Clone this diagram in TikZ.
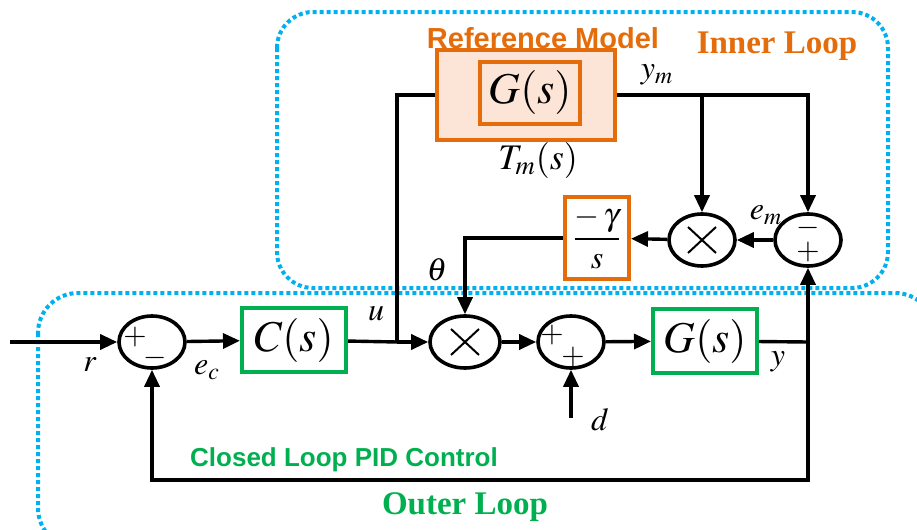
\documentclass[tikz,border=0pt]{standalone}
\usepackage{amsmath}
\usepackage{mathptmx}
\usepackage[no-math]{fontspec}
\setmainfont{Liberation Serif}
\newfontfamily\arialfont{Liberation Sans}
\usepackage{tikz}
\usetikzlibrary{positioning, calc, shapes, arrows.meta}

\definecolor{refOrange}{RGB}{228,108,10}
\definecolor{refPeach}{RGB}{252,228,214}
\definecolor{pidGreen}{RGB}{0,176,80}
\definecolor{loopBlue}{RGB}{0,176,240}

\begin{document}
\begin{tikzpicture}[x=0.5pt, y=-0.5pt, line width=1.7pt,
		>={Triangle[length=8.5pt,width=7.5pt]},
		sumnode/.style={ellipse, draw, line width=1.8pt, minimum width=33pt, minimum height=26pt, inner sep=0pt},
		plantblock/.style={draw=pidGreen, line width=2pt, minimum width=52pt, minimum height=32pt, inner sep=0pt, font=\fontsize{22}{22}\selectfont},
		orangeblock/.style={draw=refOrange, line width=2pt, inner sep=0pt},
		lbl/.style={font=\fontsize{16}{16}\selectfont},
		sign/.style={font=\fontsize{15}{15}\selectfont, inner sep=0pt},
		loopbox/.style={draw=loopBlue, line width=2pt, dash pattern=on 2pt off 1.5pt}]
	\useasboundingbox (0,0) rectangle (917,530);
	\clip (0,0) rectangle (917,530);

	% loops
	\draw[loopbox, rounded corners=18pt] (277,12) rectangle (888,288);
	\draw[loopbox, rounded corners=20pt] (38,293) rectangle (935,548);

	% outer loop blocks
	\node[sumnode] (s1) at (152,342) {};
	\node[plantblock] (ctrl) at (294,340) {$C(s)$};
	\node[sumnode, minimum width=35pt] (m1) at (465,342) {};
	\node[sumnode] (s2) at (571,342) {};
	\node[plantblock] (plant) at (705,341) {$G(s)$};

	\coordinate (in) at (10,342);
	\coordinate (uj) at (397,342);
	\coordinate (yj) at (808,342);
	\coordinate (fb) at (808,480);
	\coordinate (dist) at (571,418);

	\draw[->] (in) -- (s1);
	\draw[->] (s1) -- (ctrl);
	\draw (ctrl) -- (uj);
	\draw[->] (uj) -- (m1);
	\draw[->] (m1) -- (s2);
	\draw[->] (s2) -- (plant);
	\draw (plant) -- (yj);
	\draw[->] (yj) -- (fb) -| (s1.south);
	\draw[->] (dist) -- (s2.south);

	% inner loop blocks
	\node[orangeblock, fill=refPeach, minimum width=89pt, minimum height=45pt] (refm) at (526,95) {};
	\node[orangeblock, fill=refPeach, minimum width=50pt, minimum height=31pt, font=\fontsize{22}{22}\selectfont] (gm) at (530,93) {$G(s)$};
	\node[sumnode] (m2) at (702,240) {};
	\node[sumnode] (s3) at (808,240) {};
	\node[orangeblock, fill=white, minimum width=32pt, minimum height=41pt, font=\fontsize{16}{16}\selectfont] (gain) at (597,238) {$\dfrac{-\,\gamma}{s}$};

	\draw (uj) |- (refm.west);
	\draw[->] (refm.east) -| (s3.north);
	\draw[->] (m2 |- refm.east) -- (m2.north);
	\draw[->] (s3) -- (m2);
	\draw[->] (m2) -- (gain);
	\draw[->] (gain.west) -| (m1.north);
	\draw[->] (yj) -- (s3.south);

	% crosses
	\draw[line width=1pt, shift={(m1)}] (-14,-13) -- (14,13) (-14,13) -- (14,-13);
	\draw[line width=1pt, shift={(m2)}] (-14,-13) -- (14,13) (-14,13) -- (14,-13);

	% signs
	\node[sign] (s1p) at (135,337) {$+$};
	\node[sign] (s1m) at (155,358) {$-$};
	\node[sign] (s2p) at (552,335) {$+$};
	\node[sign] (s2q) at (573,357) {$+$};
	\node[sign] (s3m) at (808,228) {$-$};
	\node[sign] (s3p) at (808,252) {$+$};

	% signal labels
	\node[lbl] (lr) at (90,365) {$r$};
	\node[lbl] (lec) at (207,370) {$e_c$};
	\node[lbl] (lu) at (376,314) {$u$};
	\node[lbl] (lth) at (437,270) {$\theta$};
	\node[lbl] (ly) at (778,362) {$y$};
	\node[lbl] (ld) at (600,420) {$d$};
	\node[lbl] (lem) at (766,215) {$e_m$};
	\node[lbl] (lym) at (657,75) {$y_m$};
	\node[font=\fontsize{18}{18}\selectfont] (ltm) at (538,160) {$T_m(s)$};

	% titles
	\node[text=refOrange, font=\arialfont\bfseries\fontsize{14.5}{14.5}\selectfont] (trm) at (543,38) {Reference Model};
	\node[text=refOrange, font=\bfseries\fontsize{16.5}{16.5}\selectfont] (til) at (777,46) {Inner Loop};
	\node[text=pidGreen, font=\arialfont\bfseries\fontsize{13}{13}\selectfont] (tpid) at (344,460) {Closed Loop PID Control};
	\node[text=pidGreen, font=\bfseries\fontsize{16.5}{16.5}\selectfont] (tol) at (465,507) {Outer Loop};
\end{tikzpicture}
\end{document}
